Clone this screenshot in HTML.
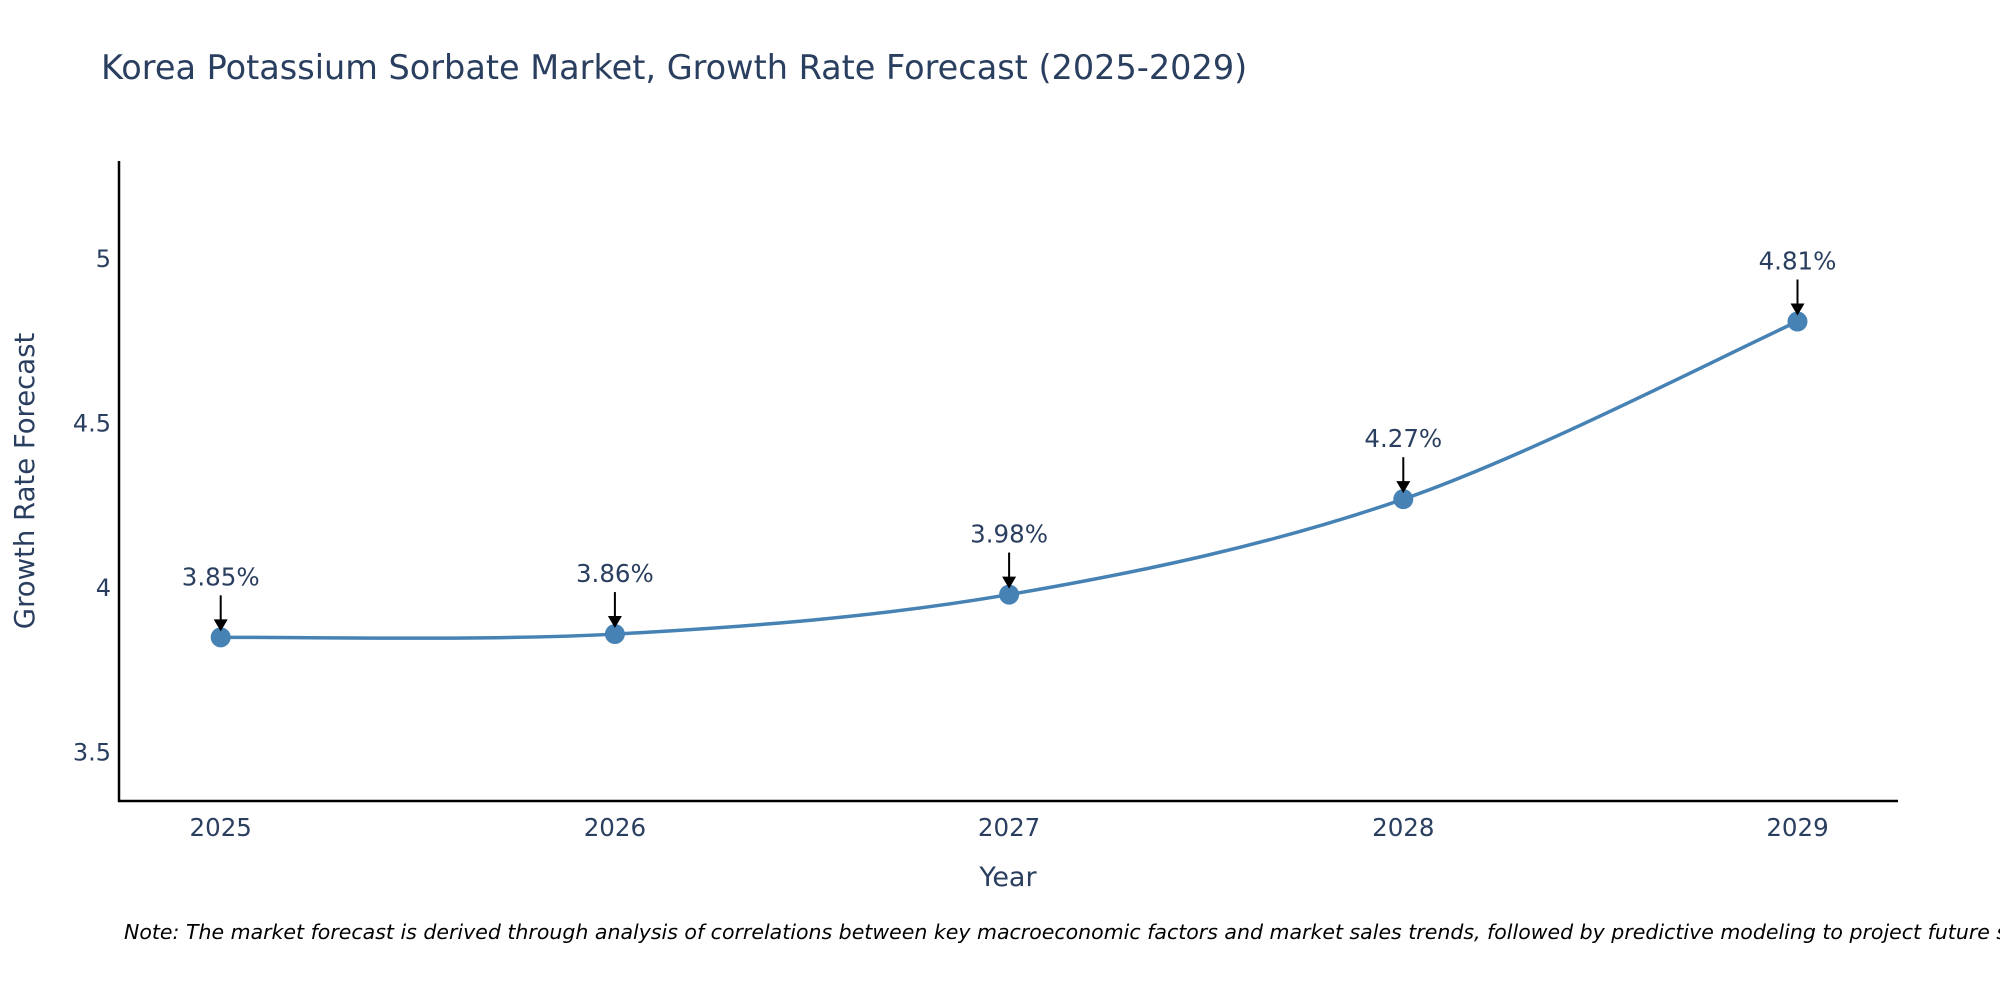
<!DOCTYPE html>
<html><head><meta charset="utf-8"><style>
body{margin:0;background:#fff;}
svg{display:block;font-family:"DejaVu Sans","Liberation Sans",sans-serif;}
</style></head><body>
<svg width="2000" height="1000" viewBox="0 0 2000 1000">
<text x="101" y="79" font-size="33.5" fill="#2a3f5f">Korea Potassium Sorbate Market, Growth Rate Forecast (2025-2029)</text>
<g id="yticks"></g><g id="xticks"></g>
<line x1="119" y1="161" x2="119" y2="802" stroke="#000" stroke-width="2.5"/>
<line x1="118" y1="801" x2="1898" y2="801" stroke="#000" stroke-width="2.5"/>
<path id="line" fill="none" stroke="#4682b4" stroke-width="3.5"/>
<g id="marks"></g>
<text x="1008" y="886" font-size="27" fill="#2a3f5f" text-anchor="middle">Year</text>
<text transform="translate(34,481) rotate(-90)" font-size="27.5" fill="#2a3f5f" text-anchor="middle">Growth Rate Forecast</text>
<text x="124" y="939" font-size="20.5" font-style="italic" fill="#000">Note: The market forecast is derived through analysis of correlations between key macroeconomic factors and market sales trends, followed by predictive modeling to project future sales.</text>
</svg>
<script>
const years=[2025,2026,2027,2028,2029];
const values=[3.85,3.86,3.98,4.27,4.81];
const labels=["3.85%","3.86%","3.98%","4.27%","4.81%"];
const yTicks=[3.5,4,4.5,5];
const yTickLabels=["3.5","4","4.5","5"];
const NS="http://www.w3.org/2000/svg";
function xs(v){return 220.7+(v-2025)*394.2;}
function ys(v){return 588-(v-4)*329;}
function mk(t,a,p){const e=document.createElementNS(NS,t);for(const k in a)e.setAttribute(k,a[k]);p.appendChild(e);return e;}
const yt=document.getElementById('yticks');
yTicks.forEach((v,i)=>{const t=mk('text',{x:111,y:ys(v)+8,'font-size':24,fill:'#2a3f5f','text-anchor':'end'},yt);


t.textContent=yTickLabels[i];});
const xt=document.getElementById('xticks');
years.forEach(v=>{const t=mk('text',{x:xs(v),y:836,'font-size':24.5,fill:'#2a3f5f','text-anchor':'middle'},xt);


t.textContent=v;});
const pts=years.map((y,i)=>[xs(y),ys(values[i])]);
let d='M'+pts[0][0]+','+pts[0][1];
for(let i=0;i<pts.length-1;i++){const p0=pts[i-1]||pts[i],p1=pts[i],p2=pts[i+1],p3=pts[i+2]||p2;const s=6;
d+=` C${p1[0]+(p2[0]-p0[0])/s},${p1[1]+(p2[1]-p0[1])/s} ${p2[0]-(p3[0]-p1[0])/s},${p2[1]-(p3[1]-p1[1])/s} ${p2[0]},${p2[1]}`;}
document.getElementById('line').setAttribute('d',d);
const g=document.getElementById('marks');
pts.forEach((p,i)=>{
const c=mk('circle',{cx:p[0],cy:p[1],r:10,fill:'#4682b4'},g);


const l=mk('line',{x1:p[0],y1:p[1]-42,x2:p[0],y2:p[1]-16,stroke:'#000','stroke-width':2},g);


const a=mk('path',{d:`M${p[0]-7},${p[1]-18} L${p[0]+7},${p[1]-18} L${p[0]},${p[1]-6} Z`,fill:'#000'},g);


const t=mk('text',{x:p[0],y:p[1]-52,'font-size':24.5,fill:'#2a3f5f','text-anchor':'middle'},g);


t.textContent=labels[i];});
</script>
</body></html>
